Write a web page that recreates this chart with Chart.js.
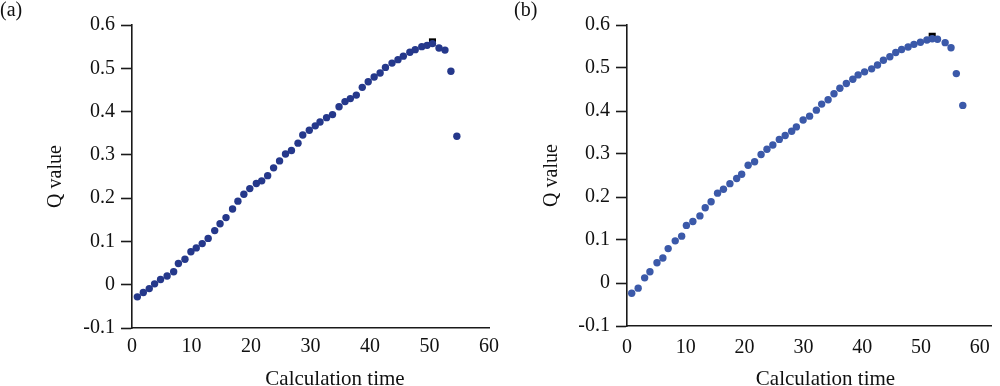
<!DOCTYPE html>
<html><head><meta charset="utf-8">
<script src="https://cdn.jsdelivr.net/npm/chart.js@4.4.1/dist/chart.umd.min.js"></script>
<style>
html,body{margin:0;padding:0;background:#fff;overflow:hidden;width:1000px;height:386px;}
.panel{position:absolute;top:0;}
canvas{display:block;}
</style></head><body>
<div class="panel" style="left:0;"><canvas id="ca" width="506" height="386"></canvas></div>
<div class="panel" style="left:500px;"><canvas id="cb" width="500" height="386"></canvas></div>
<script>
// ---- data ----
const panelLabels = ['(a)', '(b)'];
const xTitle = 'Calculation time';
const yTitle = 'Q value';
const xTicks = [0, 10, 20, 30, 40, 50, 60];
const yTicks = [-0.1, 0, 0.1, 0.2, 0.3, 0.4, 0.5, 0.6];

const timeA = [0.9,1.9,2.9,3.8,4.8,5.9,7.0,7.8,8.9,9.9,10.8,11.8,12.8,13.9,14.8,15.8,16.9,17.8,18.8,19.8,
  20.9,21.8,22.8,23.8,24.8,25.8,26.8,27.9,28.7,29.8,30.8,31.6,32.7,33.7,34.8,35.8,36.7,37.7,38.7,39.7,
  40.7,41.7,42.6,43.7,44.7,45.6,46.7,47.6,48.7,49.6,50.5,51.6,52.6,53.6,54.6];
const qA = [-0.028,-0.018,-0.009,0.002,0.012,0.020,0.030,0.049,0.059,0.076,0.085,0.095,0.107,0.125,0.141,0.155,0.175,0.193,0.209,0.222,
  0.234,0.240,0.252,0.270,0.286,0.302,0.310,0.327,0.346,0.357,0.367,0.376,0.386,0.393,0.411,0.423,0.430,0.438,0.456,0.469,
  0.480,0.489,0.502,0.512,0.520,0.528,0.537,0.543,0.550,0.553,0.557,0.547,0.542,0.493,0.343];
const peakTimeA = [50.5];
const peakQA = [0.561];

const timeB = [0.8,1.9,3.0,3.9,5.1,6.1,7.0,8.2,9.3,10.1,11.2,12.4,13.3,14.3,15.4,16.4,17.5,18.65,19.5,20.6,
  21.7,22.8,23.8,24.8,25.9,26.9,28.0,28.8,29.95,31.05,32.2,33.1,34.2,35.2,36.2,37.3,38.4,39.3,40.4,41.6,
  42.6,43.6,44.7,45.7,46.7,47.8,48.8,49.9,51.0,51.9,52.8,54.1,55.1,56.0,57.1];
const qB = [-0.024,-0.012,0.012,0.026,0.047,0.058,0.080,0.098,0.109,0.134,0.143,0.156,0.175,0.189,0.209,0.218,0.231,0.243,0.253,0.274,
  0.282,0.299,0.311,0.321,0.334,0.343,0.353,0.363,0.379,0.388,0.402,0.416,0.426,0.440,0.453,0.464,0.474,0.484,0.491,0.498,
  0.507,0.518,0.526,0.536,0.543,0.549,0.555,0.560,0.565,0.568,0.567,0.559,0.547,0.487,0.413];
const peakTimeB = [51.9];
const peakQB = [0.574];

// ---- styling / layout ----
const FONT = '"Liberation Serif", "Times New Roman", serif';
const AXIS = '#1a1a1a';

function pts(xs, ys) { return xs.map((x, i) => ({x: x, y: ys[i]})); }

function annot(label, titleCenter) {
  return {
    id: 'annot',
    afterDraw(chart) {
      const ctx = chart.ctx;
      ctx.save();
      ctx.fillStyle = '#111';
      ctx.font = '21px ' + FONT;
      ctx.textBaseline = 'alphabetic';
      ctx.textAlign = 'center';
      ctx.fillText(xTitle, titleCenter, 385);
      ctx.font = '20px ' + FONT;
      ctx.textAlign = 'left';
      ctx.fillText(label.text, label.x, 16);
      ctx.restore();
    }
  };
}

function makeChart(id, cfg) {
  return new Chart(document.getElementById(id), {
    type: 'scatter',
    data: {
      datasets: [
        { data: pts(cfg.t, cfg.q), pointStyle: 'circle', pointRadius: 3.7, pointHoverRadius: 3.7,
          backgroundColor: cfg.color, borderColor: cfg.color, borderWidth: 0 },
        { data: pts(cfg.pt, cfg.pq), pointStyle: 'rect', pointRadius: 5, pointHoverRadius: 5,
          backgroundColor: '#000', borderColor: '#000', borderWidth: 0 }
      ]
    },
    options: {
      responsive: false,
      animation: false,
      events: [],
      layout: { padding: { left: 0, top: 25, right: cfg.padRight, bottom: 0 } },
      plugins: { legend: { display: false }, tooltip: { enabled: false } },
      scales: {
        x: {
          type: 'linear', min: 0, max: cfg.xMax,
          afterFit: s => { s.height = cfg.xHeight; },
          afterBuildTicks: s => { s.ticks = xTicks.map(v => ({value: v})); },
          ticks: { font: { family: FONT, size: 20 }, color: '#111', padding: cfg.xPad, maxRotation: 0, autoSkip: false,
                   callback: v => String(v) },
          grid: { display: true, drawOnChartArea: false, drawTicks: false },
          border: { display: true, color: AXIS, width: 1.6 },
          title: { display: false }
        },
        y: {
          type: 'linear', min: -0.1, max: 0.6,
          afterFit: s => { s.width = cfg.yWidth; },
          afterBuildTicks: s => { s.ticks = yTicks.map(v => ({value: v})); },
          ticks: { font: { family: FONT, size: 20 }, color: '#111', padding: 6, autoSkip: false,
                   callback: v => (Math.abs(v) < 1e-9 ? '0' : Number(v).toFixed(1)) },
          grid: { display: true, drawOnChartArea: false, drawTicks: true, tickLength: 11, tickColor: AXIS, tickWidth: 1.6 },
          border: { display: true, color: AXIS, width: 1.6 },
          title: { display: true, text: yTitle, color: '#111', font: { family: FONT, size: 20 },
                   padding: { top: cfg.yTitlePad, bottom: 0 } }
        }
      }
    },
    plugins: [annot(cfg.label, cfg.titleCenter)]
  });
}

makeChart('ca', {
  t: timeA, q: qA, pt: peakTimeA, pq: peakQA, color: '#25388b',
  xMax: 60, padRight: 15, xHeight: 58, yWidth: 132, xPad: 7, yTitlePad: 44,
  titleCenter: 335, label: { text: panelLabels[0], x: 0 }
});
makeChart('cb', {
  t: timeB, q: qB, pt: peakTimeB, pq: peakQB, color: '#3b59a9',
  xMax: 62, padRight: 2, xHeight: 60, yWidth: 127, xPad: 10, yTitlePad: 40,
  titleCenter: 325.5, label: { text: panelLabels[1], x: 14 }
});
</script>
</body></html>
